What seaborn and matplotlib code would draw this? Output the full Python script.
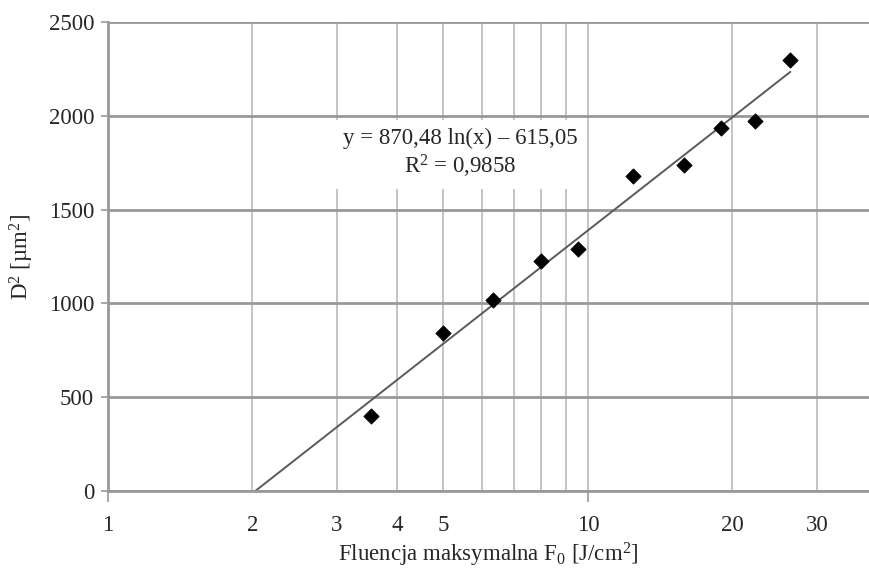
import numpy as np
import matplotlib
matplotlib.use("Agg")
import matplotlib.pyplot as plt
import matplotlib.ticker as mticker
import seaborn as sns

# data
fluence = [3.53, 5.0, 6.34, 7.98, 9.53, 12.4, 15.85, 18.9, 22.3, 26.4]
d_squared = [400, 842, 1018, 1226, 1292, 1679, 1738, 1935, 1972, 2297]

# trendline coefficients shown on the chart
coef_a = 870.48
coef_b = -615.05

label_ticks = [2, 3, 4, 5, 20, 30]
minor_ticks = [2, 3, 4, 5, 6, 7, 8, 9, 20, 30]

FS = 16.5

sns.set_style("white")
plt.rcParams["font.family"] = ["Liberation Serif", "DejaVu Serif"]
plt.rcParams["mathtext.fontset"] = "custom"
plt.rcParams["mathtext.rm"] = "Liberation Serif"
plt.rcParams["mathtext.it"] = "Liberation Serif:italic"

fig = plt.figure(figsize=(8.69, 5.71), dpi=100)
ax = fig.add_axes([108 / 869, 80 / 571, 1 - 108 / 869, 469 / 571])

x0 = np.exp(-coef_b / coef_a)
xs = np.geomspace(x0, max(fluence), 200)
ys = coef_a * np.log(xs) + coef_b
sns.lineplot(x=xs, y=ys, ax=ax, color="#5a5a5a", linewidth=1.4, zorder=2)

sns.scatterplot(x=fluence, y=d_squared, ax=ax, marker="D", s=60,
                color="black", edgecolor="black", zorder=4)

ax.set_xscale("log")
ax.set_xlim(1, 38.5)
ax.set_ylim(0, 2500)
ax.set_yticks(range(0, 2501, 500))

ax.xaxis.set_major_locator(mticker.FixedLocator([1, 10]))
ax.xaxis.set_major_formatter(mticker.FuncFormatter(lambda v, p: f"{v:g}"))
ax.xaxis.set_minor_locator(mticker.FixedLocator(minor_ticks))
ax.xaxis.set_minor_formatter(mticker.FuncFormatter(
    lambda v, p: f"{v:g}" if round(v) in label_ticks else ""))

ax.tick_params(axis="x", which="major", length=8, width=1.2, color="#999999",
               labelsize=FS, pad=9, direction="out", bottom=True)
ax.tick_params(axis="x", which="minor", length=0, labelsize=FS, pad=17)
ax.tick_params(axis="y", length=5, width=1.2, color="#999999", labelsize=FS,
               pad=5, left=True)

ax.set_axisbelow(True)
ax.grid(axis="y", which="major", color="#999999", linewidth=2)
ax.grid(axis="x", which="both", color="#c4c4c4", linewidth=1.4)

for side in ["top", "right"]:
    ax.spines[side].set_visible(False)
for side in ["left", "bottom"]:
    ax.spines[side].set_color("#999999")
    ax.spines[side].set_linewidth(2)

ax.text(5.41, 1797,
        f"y = {coef_a:.2f} ln(x) \u2013 {-coef_b:.2f}".replace(".", ",")
        + "\n" + r"R$^2$ = 0,9858",
        ha="center", va="center", multialignment="center", fontsize=FS,
        linespacing=1.2, zorder=3,
        bbox=dict(boxstyle="square,pad=0.4", facecolor="white",
                  edgecolor="none"))

ax.set_xlabel(r"Fluencja maksymalna F$_0$ [J/cm$^2$]", fontsize=FS,
              labelpad=4)
ax.set_ylabel("D$^2$ [\u00b5m$^2$]", fontsize=FS, labelpad=9)

fig.savefig("out.png", dpi=100)
